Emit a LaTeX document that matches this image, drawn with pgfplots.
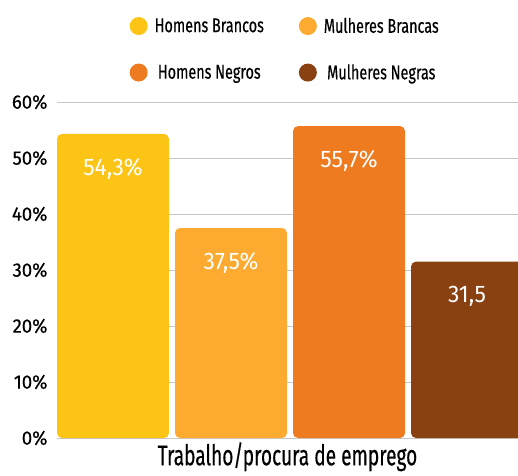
\documentclass[border=0pt]{standalone}
\usepackage{fontspec}
\setmainfont{Fira Sans}[FakeStretch=0.72, FakeBold=0.4]
\newfontfamily\xlfont{Fira Sans}[FakeStretch=0.67, FakeBold=0.4]
\newfontfamily\tkfont{Fira Sans}[FakeStretch=0.95, FakeBold=0.4]
\newfontfamily\valfont{Fira Sans}[FakeStretch=0.95]
\usepackage{pgfplots}
\pgfplotsset{compat=1.18}
\definecolor{c1}{HTML}{FCC516}
\definecolor{c2}{HTML}{FCAA30}
\definecolor{c3}{HTML}{EE7B1F}
\definecolor{c4}{HTML}{8A4112}
\begin{document}
\begin{tikzpicture}
\begin{axis}[
  at={(0,0)}, anchor=south west,
  scale only axis, width=461pt, height=336pt,
  xmin=-0.4746, xmax=3.432, ymin=0, ymax=60,
  ytick={0,10,...,60},
  yticklabel={\pgfmathprintnumber{\tick}\%},
  /pgf/number format/assume math mode=true,
  xtick=\empty,
  ymajorgrids, grid style={draw=black!22, line width=0.8pt},
  axis line style={draw=none},
  major tick length=0pt,
  yticklabel style={font=\tkfont\fontsize{19.5}{19.5}\selectfont, xshift=-6pt},
  xlabel={Trabalho/procura de emprego},
  xlabel style={font=\xlfont\fontsize{28.5}{28.5}\selectfont, at={(axis description cs:0.5,0)}, anchor=north, yshift=-2pt, inner sep=2pt},
  bar width=0.949,
  nodes near coords, point meta=explicit symbolic,
  every node near coord/.append style={anchor=center, yshift=-35pt, text=white, font=\valfont\fontsize{24}{24}\selectfont},
  legend columns=2,
  legend style={at={(0.495,1)}, anchor=south, yshift=17pt, draw=none, fill=none,
    font=\fontsize{20}{20}\selectfont, row sep=26pt,
    /tikz/every even column/.append style={column sep=33pt}},
  legend image code/.code={\fill[#1, draw=none] (3pt,0pt) circle (9pt); \path (17pt,0pt);},
]
\addplot[ybar, bar shift=0pt, fill=c1, draw=none, rounded corners=5pt] coordinates {(0,54.3) [54,3\%]};
\addlegendentry{Homens Brancos}
\addplot[ybar, bar shift=0pt, fill=c2, draw=none, rounded corners=5pt] coordinates {(1,37.5) [37,5\%]};
\addlegendentry{Mulheres Brancas}
\addplot[ybar, bar shift=0pt, fill=c3, draw=none, rounded corners=5pt] coordinates {(2,55.7) [55,7\%]};
\addlegendentry{Homens Negros}
\addplot[ybar, bar shift=0pt, fill=c4, draw=none, rounded corners=5pt] coordinates {(3,31.5) [31,5]};
\addlegendentry{Mulheres Negras}
\end{axis}
\pgfresetboundingbox
\path (-57pt,-37pt) rectangle (461pt,438pt);
\end{tikzpicture}
\end{document}
